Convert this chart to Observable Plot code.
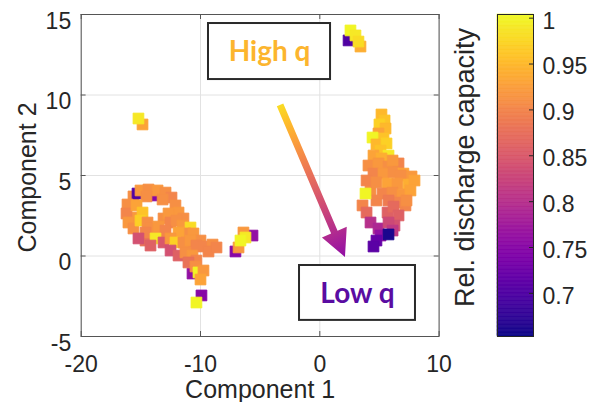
<!DOCTYPE html>
<html>
<head>
<meta charset="utf-8">
<script src="https://cdn.jsdelivr.net/npm/d3@7"></script>
<script src="https://cdn.jsdelivr.net/npm/@observablehq/plot@0.6"></script>
<style>
  html, body { margin: 0; padding: 0; background: white; }
  #wrap { position: relative; width: 602px; height: 402px; }
  #wrap svg { position: absolute; left: 0; top: 0; }
</style>
</head>
<body>
<div id="wrap"></div>
<script>
// ---- data ----
const xTicks = [-20, -10, 0, 10];
const yTicks = [-5, 0, 5, 10, 15];
const cTicks = [0.7, 0.75, 0.8, 0.85, 0.9, 0.95, 1];
const cDomain = [0.653, 1.004];

const comp1 = [
  // top cluster
  2.41, 3.41, 2.57, 2.99, 3.24,
  // small left cluster
  -14.86, -15.20,
  // bottom single
  -9.92, -10.34,
  // small middle cluster
  -5.64, -7.07, -6.40, -6.81, -6.23, -6.65,
  // left loop cluster
  -14.02, -10.67,
  -15.62, -15.28, -15.03, -14.36, -13.60, -12.93, -12.43, -12.10, -11.84, -13.18, -14.53, -15.70, -11.43,
  -16.12, -16.20, -16.04, -15.62, -15.36, -14.86, -15.03, -14.44,
  -13.10, -12.68, -12.51, -12.01, -11.51, -10.84, -11.26, -11.84, -13.35, -14.61, -11.17, -10.59, -10.00,
  -14.19, -13.52, -12.93, -14.61, -15.20, -13.77, -14.19, -13.10, -12.51, -12.10, -11.43, -10.84, -10.34,
  -12.51, -11.84, -11.26, -10.67, -10.34,
  -9.75, -8.99, -9.33, -8.66,
  -11.01, -10.42, -10.17, -9.75, -10.00,
  // right tall cluster
  5.17, 5.43, 5.00, 5.51, 4.92, 5.34, 4.42, 4.75, 5.59, 5.09, 5.76, 4.50, 5.17,
  4.08, 4.92, 5.76, 6.60, 4.50, 5.34, 6.18, 7.01, 7.69, 4.25, 6.77, 6.10, 7.18, 4.75,
  3.92, 4.75, 5.68, 6.51, 7.44, 7.94, 5.26, 6.10, 6.93, 7.60, 3.83,
  6.51, 7.27, 5.76, 3.58, 3.92, 5.68, 6.18, 6.60, 6.26,
  4.25, 4.92, 5.76, 6.10, 5.09, 5.76, 4.75, 4.50
];
const comp2 = [
  13.39, 13.01, 14.01, 13.70, 13.32,
  8.17, 8.54,
  -2.45, -2.89,
  1.27, 0.28, 1.46, 0.53, 1.15, 0.96,
  3.76, -1.09,
  3.70, 3.88, 4.07, 4.13, 4.07, 3.94, 3.63, 3.14, 2.70, 3.51, 3.70, 2.39, 2.33,
  3.20, 2.64, 2.08, 1.71, 3.14, 2.70, 2.20, 2.08,
  2.33, 2.64, 2.08, 2.20, 1.89, 1.77, 1.40, 1.46, 1.27, 0.96, 0.53, 1.40, 0.96,
  1.71, 1.83, 1.58, 1.46, 1.09, 1.09, 0.65, 0.84, 1.09, 0.84, 0.84, 0.96, 0.65,
  0.34, 0.03, 0.22, 0.03, -0.28,
  0.59, 0.71, 0.28, 0.53,
  -0.40, -0.65, -1.02, -0.90, -1.46,
  8.79, 8.42, 8.17, 7.92, 7.61, 7.30, 7.36, 6.93, 6.99, 6.55, 6.24, 6.24, 6.06,
  5.62, 5.75, 5.56, 5.75, 5.12, 5.12, 5.19, 5.12, 4.94, 4.07, 5.00, 5.93, 3.14, 3.45,
  4.69, 4.57, 4.50, 4.50, 4.44, 4.69, 3.88, 3.94, 3.82, 4.07, 3.88,
  3.32, 3.45, 3.45, 3.14, 2.70, 2.70, 3.07, 2.52, 1.89,
  2.08, 1.71, 2.08, 1.58, 1.27, 1.34, 0.96, 0.59
];
const capacity = [
  0.70, 0.94, 1.00, 0.99, 0.98,
  0.93, 0.99,
  0.75, 1.00,
  0.76, 0.75, 0.92, 0.92, 0.99, 1.00,
  0.75, 0.76,
  0.91, 0.70, 0.92, 0.91, 0.92, 0.91, 0.90, 0.91, 0.92, 0.91, 0.91, 0.92, 0.91,
  0.91, 0.90, 0.92, 0.91, 0.93, 0.96, 0.97, 0.91,
  0.91, 0.92, 0.90, 0.91, 0.92, 0.98, 0.91, 0.93, 0.91, 0.88, 0.90, 0.92, 0.91,
  0.91, 0.92, 0.90, 0.90, 0.84, 0.99, 0.86, 0.85, 0.92, 0.97, 0.91, 0.92, 0.90,
  0.84, 0.86, 0.91, 0.92, 0.90,
  0.90, 0.91, 0.90, 0.90,
  0.88, 0.91, 1.00, 0.92, 0.93,
  0.95, 0.96, 0.97, 0.95, 0.93, 0.96, 1.00, 0.95, 0.97, 0.96, 0.99, 0.93, 0.94,
  0.91, 0.92, 0.91, 0.90, 0.90, 0.92, 0.91, 0.93, 0.92, 0.91, 0.91, 0.92, 0.90, 0.90,
  0.90, 0.91, 0.93, 0.92, 0.94, 0.93, 0.90, 0.91, 0.92, 0.93, 1.00,
  0.90, 0.91, 0.89, 0.90, 0.87, 0.86, 0.87, 0.86, 0.84,
  0.80, 0.79, 0.83, 0.81, 0.76, 0.66, 0.72, 0.71
];

// annotations (data coordinates)
const boxLabels = ["High q", "Low q"];
const boxX1 = [-9.33, -1.70];
const boxX2 = [0.90, 8.02];
const boxY1 = [10.96, -4.00];
const boxY2 = [14.44, -0.59];
const boxColors = ["#fcb52e", "#5a0ca2"];
const arrowFrom = [-3.29, 9.35];
const arrowTo = [2.15, -0.09];

const xLabel = "Component 1";
const yLabel = "Component 2";
const cLabel = "Rel. discharge capacity";

// ---- build ----
const points = comp1.map((x, i) => ({c1: x, c2: comp2[i], q: capacity[i]}));
const boxes = boxLabels.map((t, i) => ({t, x1: boxX1[i], x2: boxX2[i], y1: boxY1[i], y2: boxY2[i], col: boxColors[i]}));

const FONT = "'Liberation Sans', Arial, sans-serif";
const INK = "#262626";

function arrowMark(index, scales) {
  const g = d3.create("svg:g");
  const x0 = scales.x(arrowFrom[0]), y0 = scales.y(arrowFrom[1]);
  const x1 = scales.x(arrowTo[0]), y1 = scales.y(arrowTo[1]);
  const grad = g.append("defs").append("linearGradient")
    .attr("id", "arrowGrad").attr("gradientUnits", "userSpaceOnUse")
    .attr("x1", x0).attr("y1", y0).attr("x2", x1).attr("y2", y1);
  d3.range(0, 1.0001, 0.1).forEach(s => {
    grad.append("stop").attr("offset", s).attr("stop-color", d3.interpolatePlasma(0.93 - s * 0.63));
  });
  const len = Math.hypot(x1 - x0, y1 - y0);
  const ux = (x1 - x0) / len, uy = (y1 - y0) / len;
  const nx = -uy, ny = ux;
  const w = 3.5, hw = 13.5, hl = 27;
  const bx = x1 - ux * hl, by = y1 - uy * hl;
  const pts = [
    [x0 + nx * w, y0 + ny * w], [bx + nx * w, by + ny * w], [bx + nx * hw, by + ny * hw],
    [x1, y1], [bx - nx * hw, by - ny * hw], [bx - nx * w, by - ny * w], [x0 - nx * w, y0 - ny * w]
  ];
  g.append("path").attr("d", "M" + pts.map(p => p.join(",")).join("L") + "Z")
    .attr("fill", "url(#arrowGrad)");
  return g.node();
}

const main = Plot.plot({
  width: 602, height: 402,
  marginLeft: 80.7, marginRight: 163.4, marginTop: 14, marginBottom: 66,
  x: {domain: [-20, 10]},
  y: {domain: [-5, 15]},
  color: {type: "linear", scheme: "plasma", domain: cDomain},
  style: {fontFamily: FONT, color: INK, background: "white", overflow: "visible"},
  marks: [
    Plot.gridX(xTicks, {stroke: "#e2e2e2", strokeOpacity: 1}),
    Plot.gridY(yTicks, {stroke: "#e2e2e2", strokeOpacity: 1}),
    Plot.dot(points, {x: "c1", y: "c2", fill: "q", stroke: "q", strokeWidth: 0.8, symbol: "square", r: 6.1}),
    arrowMark,
    Plot.rect(boxes, {x1: "x1", x2: "x2", y1: "y1", y2: "y2", fill: "white", stroke: "#2a2a2a", strokeWidth: 2}),
    Plot.text(boxes, {x: d => (d.x1 + d.x2) / 2, y: d => (d.y1 + d.y2) / 2, text: "t", fill: "col",
      fontSize: 28, fontWeight: "bold", fontFamily: "Lato, 'Open Sans', sans-serif", dy: 1}),
    Plot.frame({stroke: "#555"}),
    Plot.tickX(xTicks, {x: d => d, insetTop: 317, stroke: "#555"}),
    Plot.tickX(xTicks, {x: d => d, insetBottom: 317, stroke: "#555"}),
    Plot.tickY(yTicks, {y: d => d, insetRight: 353, stroke: "#555"}),
    Plot.tickY(yTicks, {y: d => d, insetLeft: 353, stroke: "#555"}),
    Plot.axisX(xTicks, {tickSize: 0, tickPadding: 19, fontSize: 23, label: null, tickFormat: d => String(d)}),
    Plot.axisY(yTicks, {tickSize: 0, tickPadding: 10, fontSize: 23, label: null, dy: 7, tickFormat: d => String(d)}),
    Plot.text([xLabel], {frameAnchor: "bottom", lineAnchor: "middle", textAnchor: "middle", dy: 53.5, fontSize: 25, fill: INK}),
    Plot.text([yLabel], {frameAnchor: "left", lineAnchor: "middle", textAnchor: "middle", dx: -52.7, dy: 2, rotate: -90, fontSize: 25, fill: INK})
  ]
});

const nSlices = 240;
const slices = d3.range(nSlices).map(i => {
  const lo = cDomain[0] + (cDomain[1] - cDomain[0]) * i / nSlices;
  const hi = cDomain[0] + (cDomain[1] - cDomain[0]) * (i + 1) / nSlices;
  return {lo, hi, mid: (lo + hi) / 2};
});

const bar = Plot.plot({
  width: 602, height: 402,
  marginLeft: 497, marginRight: 69, marginTop: 14, marginBottom: 66,
  y: {domain: cDomain},
  color: {type: "linear", scheme: "plasma", domain: cDomain},
  style: {fontFamily: FONT, color: INK, background: "transparent", overflow: "visible"},
  marks: [
    Plot.rect(slices, {y1: "lo", y2: "hi", fill: "mid", stroke: "mid", strokeWidth: 0.6}),
    Plot.frame({stroke: INK}),
    Plot.tickY(cTicks, {y: d => d, insetLeft: 32, stroke: INK}),
    Plot.axisY(cTicks, {anchor: "right", tickSize: 0, tickPadding: 9, fontSize: 23, label: null, dy: 3, tickFormat: d => String(d)}),
    Plot.text([cLabel], {frameAnchor: "left", lineAnchor: "middle", textAnchor: "middle", rotate: -90, dx: -32, dy: -8, fontSize: 27, fill: INK})
  ]
});
bar.style.pointerEvents = "none";

const wrap = document.getElementById("wrap");
wrap.appendChild(main);
wrap.appendChild(bar);
</script>
</body>
</html>
